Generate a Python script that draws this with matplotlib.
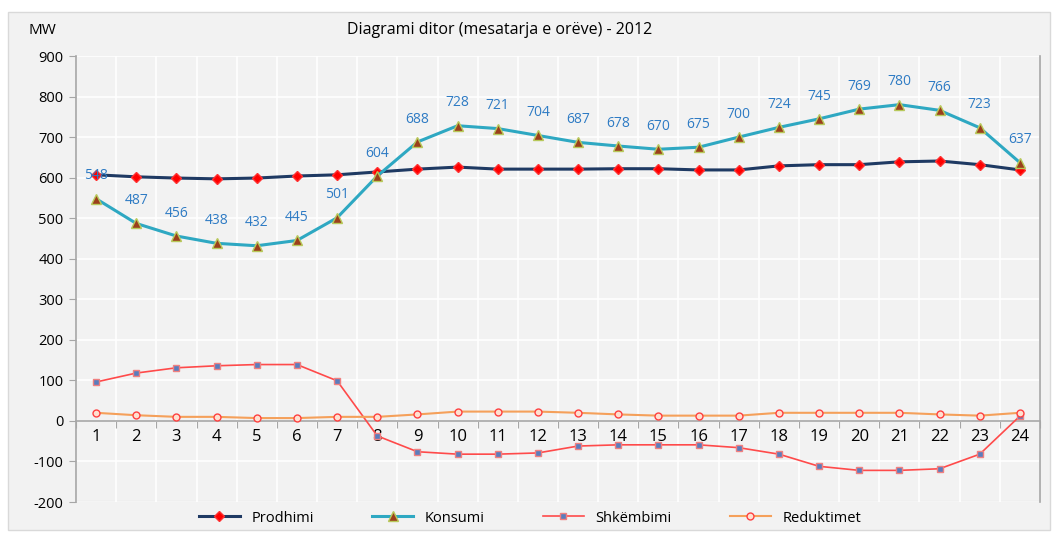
import numpy as np
import matplotlib
matplotlib.use("Agg")
import matplotlib.pyplot as plt
from matplotlib.patches import Rectangle

plt.rcParams['font.family'] = ['Open Sans', 'DejaVu Sans']
plt.rcParams['axes.unicode_minus'] = False

hours = list(range(1, 25))
prodhimi = [607, 602, 599, 597, 599, 604, 607, 614, 621, 626, 621, 621,
            621, 622, 622, 619, 619, 629, 632, 632, 639, 641, 632, 619]
konsumi = [548, 487, 456, 438, 432, 445, 501, 604, 688, 728, 721, 704,
           687, 678, 670, 675, 700, 724, 745, 769, 780, 766, 723, 637]
shkembimi = [96, 118, 131, 136, 139, 139, 99, -37, -76, -82, -82, -79,
             -62, -59, -59, -59, -66, -82, -112, -122, -122, -118, -82, 12]
reduktimet = [20, 14, 10, 10, 7, 7, 10, 10, 16, 23, 23, 23,
              20, 16, 13, 13, 13, 20, 20, 20, 20, 16, 13, 20]

bg = '#f2f2f2'
fig = plt.figure(figsize=(10.58, 5.35), dpi=100)
fig.patch.set_facecolor('white')
fig.patches.append(Rectangle((8/1058, 5/535), 1042/1058, 518/535, transform=fig.transFigure,
                             facecolor=bg, edgecolor='#d9d9d9', lw=1, zorder=-10))

ax = fig.add_axes([76/1058, 33/535, 964/1058, 446/535])
ax.set_facecolor(bg)
ax.set_xlim(0.5, 24.5)
ax.set_ylim(-200, 900)

ax.set_yticks(np.arange(-200, 901, 100))
ax.set_xticks(np.arange(0.5, 25, 1))
ax.set_xticklabels([])
ax.set_xticks(hours, minor=True)
ax.set_xticklabels([str(h) for h in hours], minor=True)
ax.grid(True, which='major', color='white', lw=1.2, zorder=0)
ax.tick_params(axis='x', which='minor', length=0, pad=6, labelsize=12)
ax.tick_params(axis='x', which='major', length=5, color='#a6a6a6', direction='out')
ax.tick_params(axis='y', length=5, color='#a6a6a6', labelsize=10.5, pad=4)

ax.spines['top'].set_visible(False)
ax.spines['bottom'].set_position(('data', 0))
for s in ['left', 'right', 'bottom']:
    ax.spines[s].set_color('#a6a6a6')
    ax.spines[s].set_linewidth(1.2)
ax.axhline(-200, color='#bfbfbf', lw=1.5, zorder=1)

ax.plot(hours, prodhimi, color='#1f3a63', lw=2.2, marker='D', ms=5,
        mfc='red', mec='#ff3030', label='Prodhimi', zorder=4)
ax.plot(hours, konsumi, color='#2ea8c2', lw=2.2, marker='^', ms=7,
        mfc='#9b3f1c', mec='#b8c95a', label='Konsumi', zorder=5)
ax.plot(hours, shkembimi, color='#ff4a4a', lw=1.2, marker='s', ms=5,
        mfc='#5a7dbd', mec='#f08080', label='Shkëmbimi', zorder=3)
ax.plot(hours, reduktimet, color='#f5a05a', lw=1.5, marker='o', ms=5,
        mfc='#ffe0d0', mec='#ff4040', label='Reduktimet', zorder=3)

for h, v in zip(hours, konsumi):
    ax.annotate(str(v), (h, v), xytext=(0, 11), textcoords='offset points',
                ha='center', va='bottom', color='#2e7bc4', fontsize=10, zorder=6)

fig.text(42/1058, 1 - 30/535, 'MW', fontsize=11, ha='center', va='center')
fig.text(500/1058, 1 - 30/535, 'Diagrami ditor (mesatarja e orëve) - 2012',
         fontsize=11.5, ha='center', va='center')

fig.legend(loc='center', bbox_to_anchor=(530/1058, 1 - 518/535), ncol=4,
           frameon=False, fontsize=10.5, handlelength=2.8, columnspacing=4.0)

fig.savefig('out.png', dpi=100, facecolor=fig.get_facecolor())
